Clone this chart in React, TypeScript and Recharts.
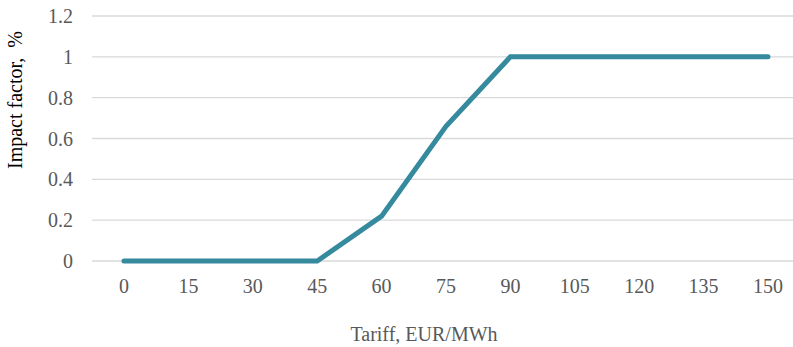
import React from 'react';
import { LineChart, Line, XAxis, YAxis, CartesianGrid, Label } from 'recharts';

const tariffs = [0, 15, 30, 45, 60, 75, 90, 105, 120, 135, 150];
const impact = [0, 0, 0, 0, 0.22, 0.66, 1, 1, 1, 1, 1];
const yTicks = [0, 0.2, 0.4, 0.6, 0.8, 1, 1.2];

const data = tariffs.map((t, i) => ({ tariff: String(t), impact: impact[i] }));

const FONT = '"Liberation Serif", "Times New Roman", serif';
const GRAY = '#595959';

export default function App() {
  return (
    <div style={{ position: 'absolute', left: 0, top: 0, width: 793, height: 347, overflow: 'hidden', background: '#fff' }}>
      <LineChart width={810} height={347} data={data} margin={{ top: 16, right: 10, bottom: 0, left: 0 }}>
        <CartesianGrid horizontal vertical={false} stroke="#d9d9d9" strokeWidth={1.3} />
        <XAxis
          dataKey="tariff"
          axisLine={false}
          tickLine={false}
          tickSize={0}
          tickMargin={18}
          height={86}
          interval={0}
          padding={{ left: 32, right: 32 }}
          tick={{ fill: GRAY, fontSize: 20, fontFamily: FONT }}
        >
          <Label
            content={() => (
              <text x={424} y={341} textAnchor="middle" fill={GRAY} fontSize={20} fontFamily={FONT}>
                Tariff, EUR/MWh
              </text>
            )}
          />
        </XAxis>
        <YAxis
          domain={[0, 1.2]}
          ticks={yTicks}
          axisLine={false}
          tickLine={false}
          tickSize={0}
          tickMargin={19}
          width={92}
          tick={{ fill: GRAY, fontSize: 20, fontFamily: FONT }}
        >
          <Label
            content={() => (
              <text transform="translate(22,100) rotate(-90)" textAnchor="middle" fill="#000" fontSize={20} fontFamily={FONT}>
                {'Impact factor,\u00A0\u00A0%'}
              </text>
            )}
          />
        </YAxis>
        <Line
          type="linear"
          dataKey="impact"
          stroke="#358a9d"
          strokeWidth={5}
          dot={false}
          activeDot={false}
          strokeLinecap="round"
          isAnimationActive={false}
        />
      </LineChart>
    </div>
  );
}
